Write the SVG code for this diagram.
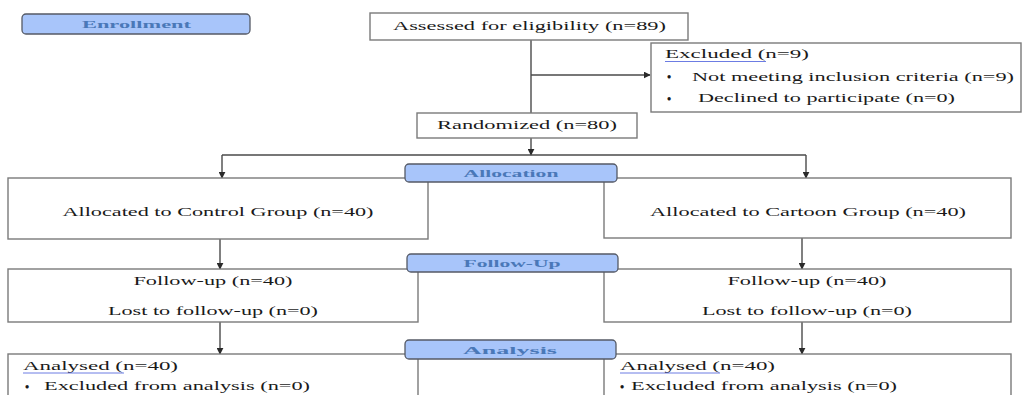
<svg xmlns="http://www.w3.org/2000/svg" width="1024" height="395" viewBox="0 0 1024 395">
  <style>
    .box { fill: #ffffff; stroke: #7a7a7a; stroke-width: 1.4; }
    .pill { fill: #a8c5fa; stroke: #555a66; stroke-width: 1.3; }
    .t { font-family: "Liberation Serif", "Times New Roman", serif; font-size: 13px; fill: #1a1a1a; }
    .b { font-family: "Liberation Serif", "Times New Roman", serif; font-size: 12px; font-weight: bold; fill: #1a1a1a; }
    .pt { font-family: "Liberation Serif", "Times New Roman", serif; font-size: 10.5px; font-weight: bold; fill: #4a78b8; }
    .c { text-anchor: middle; }
    .con { fill: none; stroke: #4a4a4a; stroke-width: 1.4; }
    .ul { stroke: #5b6de0; stroke-width: 0.9; }
  </style>
  <defs>
    <marker id="arr" viewBox="0 0 10 10" refX="9" refY="5" markerWidth="7" markerHeight="7" markerUnits="userSpaceOnUse" orient="auto">
      <path d="M0,0 L10,5 L0,10 z" fill="#2a2a2a"/>
    </marker>
  </defs>
  <rect width="1024" height="395" fill="#ffffff"/>

  <g id="connectors">
    <path class="con" d="M531,40 V113"/>
    <path class="con" d="M531,75 H650" marker-end="url(#arr)"/>
    <path class="con" d="M531,138 V155" marker-end="url(#arr)"/>
    <path class="con" d="M222,155 H806"/>
    <path class="con" d="M222,155 V178" marker-end="url(#arr)"/>
    <path class="con" d="M806,155 V178" marker-end="url(#arr)"/>
    <path class="con" d="M220,239 V269" marker-end="url(#arr)"/>
    <path class="con" d="M802,238 V269" marker-end="url(#arr)"/>
    <path class="con" d="M220,322 V354" marker-end="url(#arr)"/>
    <path class="con" d="M802,322 V354" marker-end="url(#arr)"/>
  </g>

  <g id="assessed">
    <rect class="box" x="370" y="13" width="318" height="27"/>
    <text class="t c" x="529.5" y="30" textLength="273" lengthAdjust="spacingAndGlyphs">Assessed for eligibility (n=89)</text>
  </g>

  <g id="excluded">
    <rect class="box" x="651" y="43" width="370" height="69"/>
    <text class="t" x="665" y="58" textLength="144" lengthAdjust="spacingAndGlyphs">Excluded  (n=9)</text>
    <line class="ul" x1="665" y1="61.5" x2="766" y2="61.5"/>
    <text class="b" x="667" y="81">•</text>
    <text class="t" x="692" y="80.5" textLength="322" lengthAdjust="spacingAndGlyphs">Not meeting inclusion criteria (n=9)</text>
    <text class="b" x="667" y="103">•</text>
    <text class="t" x="698" y="102" textLength="257" lengthAdjust="spacingAndGlyphs">Declined to participate (n=0)</text>
  </g>

  <g id="randomized">
    <rect class="box" x="417" y="113" width="220" height="25"/>
    <text class="t c" x="527" y="129" textLength="180" lengthAdjust="spacingAndGlyphs">Randomized (n=80)</text>
  </g>

  <g id="control-allocation">
    <rect class="box" x="8" y="178" width="420" height="61"/>
    <text class="t c" x="218" y="215.5" textLength="311" lengthAdjust="spacingAndGlyphs">Allocated to Control Group (n=40)</text>
  </g>

  <g id="cartoon-allocation">
    <rect class="box" x="604" y="178" width="407" height="60"/>
    <text class="t c" x="808" y="215.5" textLength="316" lengthAdjust="spacingAndGlyphs">Allocated to Cartoon Group (n=40)</text>
  </g>

  <g id="control-followup">
    <rect class="box" x="8" y="269" width="410" height="53"/>
    <text class="t c" x="213" y="284.5" textLength="159" lengthAdjust="spacingAndGlyphs">Follow-up (n=40)</text>
    <text class="t c" x="213" y="314.5" textLength="210" lengthAdjust="spacingAndGlyphs">Lost to follow-up (n=0)</text>
  </g>

  <g id="cartoon-followup">
    <rect class="box" x="604" y="269" width="407" height="53"/>
    <text class="t c" x="807" y="284.5" textLength="159" lengthAdjust="spacingAndGlyphs">Follow-up (n=40)</text>
    <text class="t c" x="807" y="314.5" textLength="210" lengthAdjust="spacingAndGlyphs">Lost to follow-up (n=0)</text>
  </g>

  <g id="control-analysis">
    <rect class="box" x="8" y="354" width="410" height="50"/>
    <text class="t" x="23" y="369.5" textLength="155" lengthAdjust="spacingAndGlyphs">Analysed  (n=40)</text>
    <line class="ul" x1="23" y1="373" x2="124" y2="373"/>
    <text class="b" x="25" y="391">•</text>
    <text class="t" x="44" y="390" textLength="266" lengthAdjust="spacingAndGlyphs">Excluded from analysis (n=0)</text>
  </g>

  <g id="cartoon-analysis">
    <rect class="box" x="604" y="354" width="407" height="50"/>
    <text class="t" x="620" y="369.5" textLength="155" lengthAdjust="spacingAndGlyphs">Analysed  (n=40)</text>
    <line class="ul" x1="620" y1="373" x2="720" y2="373"/>
    <text class="b" x="620" y="391">•</text>
    <text class="t" x="631" y="390" textLength="266" lengthAdjust="spacingAndGlyphs">Excluded from analysis (n=0)</text>
  </g>

  <g id="enrollment-label">
    <rect class="pill" x="22" y="14" width="228" height="20" rx="4"/>
    <text class="pt c" x="136.5" y="27.5" textLength="109" lengthAdjust="spacingAndGlyphs">Enrollment</text>
  </g>

  <g id="allocation-label">
    <rect class="pill" x="405" y="164" width="212" height="18" rx="4"/>
    <text class="pt c" x="511" y="177" textLength="95" lengthAdjust="spacingAndGlyphs">Allocation</text>
  </g>

  <g id="followup-label">
    <rect class="pill" x="407" y="254" width="211" height="18" rx="4"/>
    <text class="pt c" x="512" y="267" textLength="97" lengthAdjust="spacingAndGlyphs">Follow-Up</text>
  </g>

  <g id="analysis-label">
    <rect class="pill" x="405" y="340" width="211" height="19" rx="4"/>
    <text class="pt c" x="510" y="353.5" textLength="94" lengthAdjust="spacingAndGlyphs">Analysis</text>
  </g>
</svg>
